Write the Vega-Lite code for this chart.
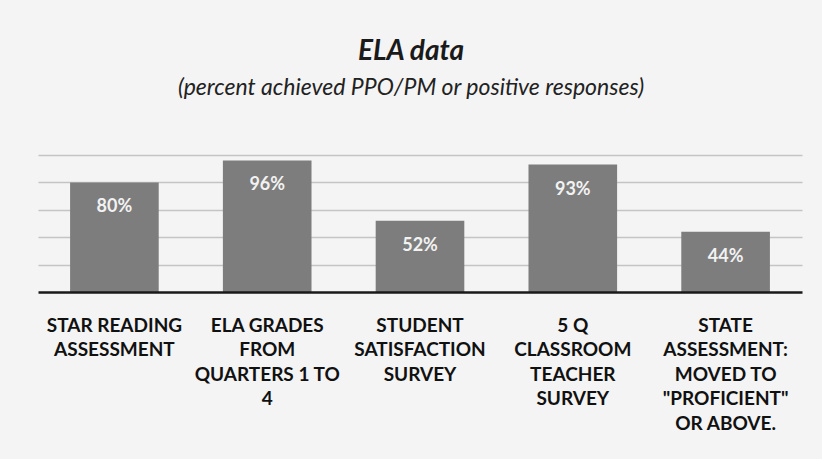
{
  "$schema": "https://vega.github.io/schema/vega-lite/v6.json",
  "autosize": "none",
  "width": 764,
  "height": 137,
  "padding": {"left": 38, "top": 155, "right": 20, "bottom": 167},
  "background": "#f4f4f4",
  "config": {"view": {"stroke": null}, "font": "Lato"},
  "title": {
    "text": "ELA data",
    "subtitle": "(percent achieved PPO/PM or positive responses)",
    "anchor": "middle",
    "dx": -9,
    "offset": 55,
    "font": "Lato",
    "fontSize": 28,
    "fontWeight": "bold",
    "fontStyle": "italic",
    "color": "#1a1a1a",
    "subtitleFont": "Lato",
    "subtitleFontSize": 23,
    "subtitleFontStyle": "italic",
    "subtitleColor": "#222222",
    "subtitlePadding": 11
  },
  "data": {
    "values": [
      {"category": "STAR READING|ASSESSMENT", "value": 80, "label": "80%"},
      {"category": "ELA GRADES|FROM|QUARTERS 1 TO|4", "value": 96, "label": "96%"},
      {"category": "STUDENT|SATISFACTION|SURVEY", "value": 52, "label": "52%"},
      {"category": "5 Q|CLASSROOM|TEACHER|SURVEY", "value": 93, "label": "93%"},
      {"category": "STATE|ASSESSMENT:|MOVED TO|\"PROFICIENT\"|OR ABOVE.", "value": 44, "label": "44%"}
    ]
  },
  "encoding": {
    "x": {
      "field": "category",
      "type": "nominal",
      "sort": null,
      "scale": {"paddingInner": 0.42, "paddingOuter": 0.21},
      "axis": {
        "title": null,
        "labelAngle": 0,
        "labelExpr": "split(datum.label, '|')",
        "labelFont": "Lato",
        "labelFontSize": 19,
        "labelFontWeight": "bold",
        "labelColor": "#111111",
        "labelLineHeight": 24.5,
        "labelPadding": 24,
        "labelLimit": 0,
        "labelBaseline": "top",
        "ticks": false,
        "domainColor": "#1a1a1a",
        "domainWidth": 2.5,
        "zindex": 2
      }
    },
    "y": {
      "field": "value",
      "type": "quantitative",
      "scale": {"domain": [0, 100]},
      "axis": {
        "title": null,
        "labels": false,
        "ticks": false,
        "domain": false,
        "values": [20, 40, 60, 80, 100],
        "gridColor": "#c4c4c4",
        "gridWidth": 1.5
      }
    }
  },
  "layer": [
    {"mark": {"type": "bar", "color": "#7d7d7d"}},
    {
      "mark": {"type": "text", "baseline": "middle", "dy": 25, "color": "#f2f2f2", "fontSize": 18, "fontWeight": "bold", "font": "Lato"},
      "encoding": {"text": {"field": "label"}}
    }
  ]
}
